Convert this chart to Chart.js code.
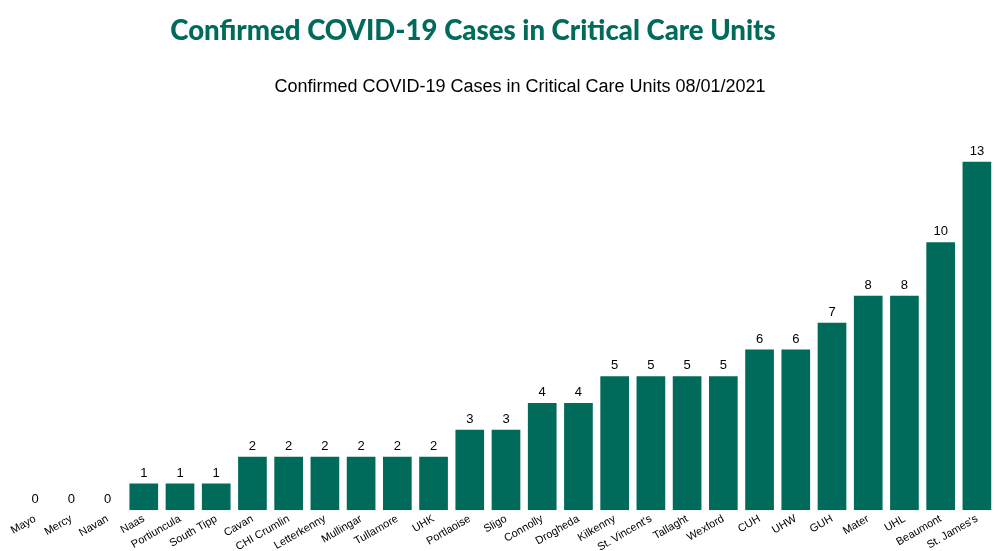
<!DOCTYPE html>
<html>
<head>
<meta charset="utf-8">
<script src="https://cdn.jsdelivr.net/npm/chart.js@4/dist/chart.umd.min.js"></script>
<style>
  html, body { margin: 0; padding: 0; background: #fff; }
  #wrap { position: relative; width: 1000px; height: 551px; }
  h1 {
    position: absolute; top: 13px; left: 0; width: 946px; margin: 0;
    text-align: center; font-family: Lato, "Open Sans", sans-serif;
    font-weight: 900; font-size: 27.6px; color: #006b5a;
  }
  h2 {
    position: absolute; top: 76px; left: 0; width: 1040px; margin: 0;
    text-align: center; font-family: "Liberation Sans", Arial, sans-serif;
    font-weight: normal; font-size: 18px; color: #000;
  }
</style>
</head>
<body>
<div id="wrap">
  <h1>Confirmed COVID-19 Cases in Critical Care Units</h1>
  <h2 id="sub"></h2>
  <canvas id="ccuChart" width="1000" height="551"></canvas>
</div>
<script>
const hospitals = ['Mayo', 'Mercy', 'Navan', 'Naas', 'Portiuncula', 'South Tipp', 'Cavan', 'CHI Crumlin',
  'Letterkenny', 'Mullingar', 'Tullamore', 'UHK', 'Portlaoise', 'Sligo', 'Connolly', 'Drogheda',
  'Kilkenny', "St. Vincent's", 'Tallaght', 'Wexford', 'CUH', 'UHW', 'GUH', 'Mater', 'UHL',
  'Beaumont', "St. James's"];
const cases = [0, 0, 0, 1, 1, 1, 2, 2, 2, 2, 2, 2, 3, 3, 4, 4, 5, 5, 5, 5, 6, 6, 7, 8, 8, 10, 13];
const chartTitle = 'Confirmed COVID-19 Cases in Critical Care Units 08/01/2021';

document.getElementById('sub').textContent = chartTitle;

// draws the value above every bar (no datalabels plugin offline)
const valueLabels = {
  id: 'valueLabels',
  afterDatasetsDraw(chart) {
    const ctx = chart.ctx;
    const meta = chart.getDatasetMeta(0);
    ctx.save();
    ctx.font = '13px "Liberation Sans", Arial, sans-serif';
    ctx.fillStyle = '#000';
    ctx.textAlign = 'center';
    ctx.textBaseline = 'bottom';
    meta.data.forEach((bar, i) => {
      ctx.fillText(cases[i], bar.x, bar.y - 4);
    });
    ctx.restore();
  }
};

new Chart(document.getElementById('ccuChart'), {
  type: 'bar',
  data: {
    labels: hospitals,
    datasets: [{
      data: cases,
      backgroundColor: '#006b5a',
      barPercentage: 0.9,
      categoryPercentage: 0.88
    }]
  },
  options: {
    responsive: false,
    animation: false,
    layout: { padding: { top: 135, left: 17, right: 5, bottom: -5 } },
    plugins: {
      legend: { display: false },
      tooltip: { enabled: false },
      title: { display: false }
    },
    scales: {
      x: {
        grid: { display: false, drawTicks: false },
        border: { display: false },
        ticks: {
          color: '#000',
          font: { family: '"Liberation Sans", Arial, sans-serif', size: 11 },
          maxRotation: 30,
          minRotation: 30,
          padding: 2,
          autoSkip: false
        }
      },
      y: { display: false, min: 0, max: 14 }
    }
  },
  plugins: [valueLabels]
});
</script>
</body>
</html>
